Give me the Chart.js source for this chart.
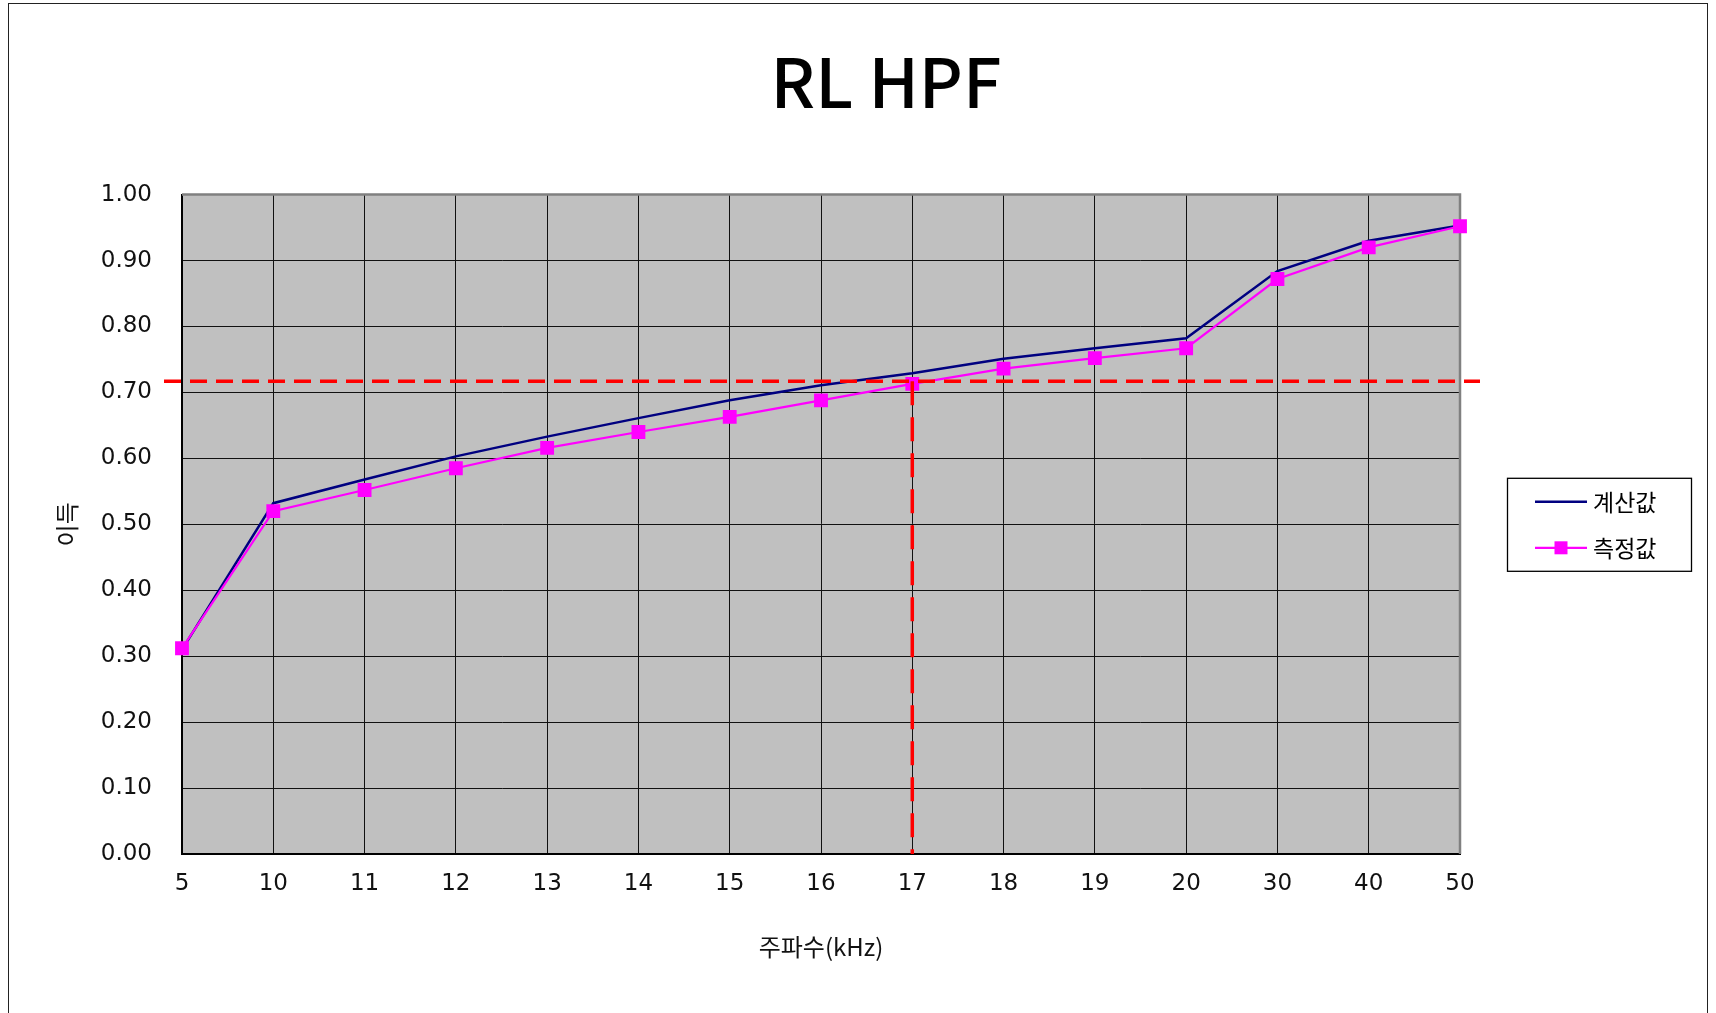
<!DOCTYPE html>
<html>
<head>
<meta charset="utf-8">
<script src="https://cdn.jsdelivr.net/npm/chart.js@4.4.1/dist/chart.umd.min.js"></script>
<style>
  html, body { margin: 0; padding: 0; background: #fff; }
  #wrap { position: relative; width: 1716px; height: 1013px; overflow: hidden; }
  #frame { position: absolute; left: 8px; top: 3px; width: 1698px; height: 1030px; border: 1px solid #222; }
  canvas { position: absolute; left: 0; top: 0; }
</style>
</head>
<body>
<div id="wrap">
  <div id="frame"></div>
  <canvas id="chart" width="1716" height="1013"></canvas>
</div>
<script>
// 주파수 (kHz) - 카테고리 축
const freqLabels = ['5', '10', '11', '12', '13', '14', '15', '16', '17', '18', '19', '20', '30', '40', '50'];
// 계산값
const calcValues = [0.31, 0.532, 0.568, 0.603, 0.633, 0.661, 0.688, 0.711, 0.729, 0.751, 0.767, 0.782, 0.884, 0.930, 0.953];
// 측정값
const measValues = [0.312, 0.520, 0.552, 0.585, 0.616, 0.640, 0.663, 0.688, 0.713, 0.736, 0.752, 0.767, 0.872, 0.920, 0.952];
// 차단 주파수 표시선
const cutoffLevel = 0.717;
const cutoffFreq = '17';

const tickFont = { family: 'DejaVu Sans', size: 23 };
const krFont = 'Noto Sans CJK KR';

// 플롯 배경 (회색)
const plotBg = {
  id: 'plotBg',
  beforeDraw(chart) {
    const { ctx, chartArea: a } = chart;
    ctx.save();
    ctx.fillStyle = '#c0c0c0';
    ctx.fillRect(a.left, a.top, a.right - a.left, a.bottom - a.top);
    ctx.restore();
  }
};

// 위/오른쪽 테두리
const plotEdge = {
  id: 'plotEdge',
  beforeDatasetsDraw(chart) {
    const { ctx, chartArea: a } = chart;
    ctx.save();
    ctx.strokeStyle = '#808080';
    ctx.lineWidth = 2.5;
    ctx.beginPath();
    ctx.moveTo(a.left, a.top);
    ctx.lineTo(a.right, a.top);
    ctx.lineTo(a.right, a.bottom);
    ctx.stroke();
    ctx.restore();
  }
};

// 빨간 점선 (차단 주파수)
const cutoffLines = {
  id: 'cutoffLines',
  afterDatasetsDraw(chart) {
    const { ctx, chartArea: a, scales } = chart;
    const y = scales.y.getPixelForValue(cutoffLevel);
    const x = scales.x.getPixelForValue(freqLabels.indexOf(cutoffFreq));
    ctx.save();
    ctx.strokeStyle = '#ff0000';
    ctx.lineWidth = 3.5;
    ctx.setLineDash([17, 9]);
    ctx.beginPath();
    ctx.moveTo(a.left - 18, y);
    ctx.lineTo(a.right + 20, y);
    ctx.stroke();
    ctx.setLineDash([24, 12]);
    ctx.beginPath();
    ctx.moveTo(x, y);
    ctx.lineTo(x, a.bottom);
    ctx.stroke();
    ctx.restore();
  }
};

// 범례 (테두리 상자)
const legendBox = {
  id: 'legendBox',
  afterDraw(chart) {
    const { ctx, chartArea: a } = chart;
    const w = 184, h = 93;
    const x0 = a.right + 47;
    const y0 = (a.top + a.bottom) / 2 - h / 2;
    ctx.save();
    ctx.fillStyle = '#fff';
    ctx.fillRect(x0, y0, w, h);
    ctx.strokeStyle = '#000';
    ctx.lineWidth = 1.3;
    ctx.strokeRect(x0 + 0.5, y0 + 0.5, w, h);
    chart.data.datasets.forEach((ds, i) => {
      const y = y0 + 24 + i * 46;
      ctx.strokeStyle = ds.borderColor;
      ctx.lineWidth = ds.borderWidth;
      ctx.beginPath();
      ctx.moveTo(x0 + 28, y);
      ctx.lineTo(x0 + 80, y);
      ctx.stroke();
      if (ds.pointRadius) {
        ctx.fillStyle = ds.pointBackgroundColor;
        ctx.fillRect(x0 + 54 - 6.5, y - 6.5, 13, 13);
      }
      ctx.fillStyle = '#000';
      ctx.font = '23px "' + krFont + '"';
      ctx.textBaseline = 'middle';
      ctx.fillText(ds.label, x0 + 86, y);
    });
    ctx.restore();
  }
};

// 제목 위치 조정
const titleShift = {
  id: 'titleShift',
  afterLayout(chart) {
    const a = chart.chartArea;
    const cx = (a.left + a.right) / 2 + 65;
    chart.titleBlock.left = cx - 400;
    chart.titleBlock.right = cx + 400;
  }
};

const ctx = document.getElementById('chart').getContext('2d');
new Chart(ctx, {
  type: 'line',
  data: {
    labels: freqLabels,
    datasets: [
      {
        label: '계산값',
        data: calcValues,
        borderColor: '#000080',
        borderWidth: 2.5,
        pointRadius: 0,
        fill: false,
        order: 1
      },
      {
        label: '측정값',
        data: measValues,
        borderColor: '#ff00ff',
        borderWidth: 2.2,
        pointStyle: 'rect',
        pointRadius: 9.8,
        pointBackgroundColor: '#ff00ff',
        pointBorderColor: '#ff00ff',
        pointBorderWidth: 0,
        fill: false,
        order: 0
      }
    ]
  },
  options: {
    responsive: false,
    animation: false,
    devicePixelRatio: 1,
    layout: { padding: { left: 30, right: 256, top: 0, bottom: 39 } },
    plugins: {
      legend: { display: false },
      tooltip: { enabled: false },
      title: {
        display: true,
        text: 'RL HPF',
        color: '#000',
        font: { family: krFont, size: 68, weight: 500, lineHeight: 1.2 },
        padding: { top: 41, bottom: 72 }
      }
    },
    scales: {
      x: {
        offset: false,
        grid: { color: '#111', lineWidth: 1, drawTicks: false },
        border: { color: '#000', width: 2 },
        ticks: { font: tickFont, color: '#111', padding: 16, maxRotation: 0, autoSkip: false },
        title: {
          display: true,
          text: '주파수(kHz)',
          color: '#111',
          font: { family: krFont, size: 24 },
          padding: { top: 0, bottom: 13 }
        },
        afterFit(scale) { scale.height = 120; }
      },
      y: {
        min: 0,
        max: 1,
        grid: { color: '#111', lineWidth: 1, drawTicks: false },
        border: { color: '#000', width: 2 },
        ticks: {
          stepSize: 0.1,
          font: tickFont,
          color: '#111',
          padding: 30,
          callback: v => v.toFixed(2)
        },
        title: {
          display: true,
          text: '이득',
          color: '#111',
          font: { family: krFont, size: 24 },
          padding: { top: 22, bottom: 0 }
        },
        afterFit(scale) { scale.width = 152; }
      }
    }
  },
  plugins: [plotBg, plotEdge, cutoffLines, legendBox, titleShift]
});
</script>
</body>
</html>
